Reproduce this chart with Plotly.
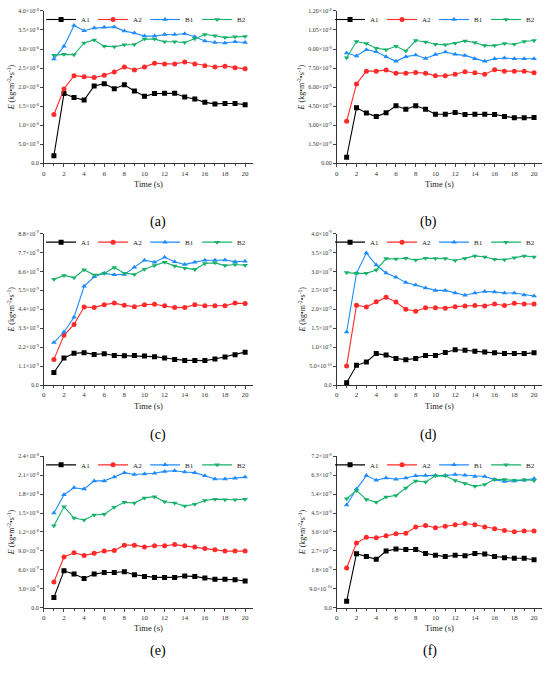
import math
import plotly.graph_objects as go

# time axis (s)
time_s = list(range(1, 21))
series_names = ['A1', 'A2', 'B1', 'B2']

# (a) values in units of 1e-8
a_A1 = [0.20, 1.83, 1.73, 1.66, 2.03, 2.09, 1.96, 2.06, 1.90, 1.76, 1.83, 1.84, 1.84, 1.74, 1.69, 1.60, 1.56, 1.57, 1.57, 1.54]
a_A2 = [1.28, 1.95, 2.30, 2.27, 2.25, 2.31, 2.40, 2.53, 2.45, 2.53, 2.63, 2.61, 2.61, 2.66, 2.61, 2.56, 2.53, 2.55, 2.51, 2.48]
a_B1 = [2.74, 3.07, 3.62, 3.48, 3.55, 3.57, 3.58, 3.47, 3.42, 3.34, 3.34, 3.38, 3.38, 3.40, 3.32, 3.21, 3.17, 3.16, 3.19, 3.17]
a_B2 = [2.84, 2.86, 2.85, 3.16, 3.24, 3.07, 3.06, 3.11, 3.12, 3.26, 3.26, 3.19, 3.19, 3.17, 3.27, 3.38, 3.35, 3.30, 3.32, 3.33]

# (b) values in units of 1e-9
b_A1 = [0.48, 4.37, 3.97, 3.68, 3.99, 4.53, 4.26, 4.53, 4.26, 3.87, 3.87, 4.00, 3.84, 3.87, 3.87, 3.84, 3.68, 3.58, 3.58, 3.60]
b_A2 = [3.31, 6.25, 7.26, 7.26, 7.34, 7.10, 7.10, 7.15, 7.10, 6.89, 6.89, 7.02, 7.21, 7.13, 7.02, 7.36, 7.26, 7.26, 7.26, 7.13]
b_B1 = [8.69, 8.45, 8.95, 8.79, 8.40, 8.03, 8.40, 8.53, 8.26, 8.56, 8.77, 8.58, 8.50, 8.24, 8.03, 8.24, 8.29, 8.24, 8.24, 8.24]
b_B2 = [8.32, 9.59, 9.43, 9.06, 8.95, 9.22, 8.85, 9.67, 9.56, 9.38, 9.33, 9.46, 9.64, 9.51, 9.27, 9.27, 9.43, 9.38, 9.59, 9.67]

# (c) values in units of 1e-9
c_A1 = [0.73, 1.57, 1.84, 1.88, 1.78, 1.82, 1.72, 1.70, 1.72, 1.68, 1.65, 1.57, 1.49, 1.43, 1.43, 1.42, 1.51, 1.63, 1.76, 1.91]
c_A2 = [1.49, 2.89, 3.52, 4.53, 4.50, 4.67, 4.76, 4.63, 4.55, 4.67, 4.69, 4.61, 4.50, 4.51, 4.67, 4.61, 4.61, 4.61, 4.76, 4.74]
c_B1 = [2.47, 3.08, 3.94, 5.74, 6.29, 6.49, 6.41, 6.43, 6.85, 7.25, 7.14, 7.42, 7.16, 7.00, 7.14, 7.25, 7.25, 7.27, 7.17, 7.19]
c_B2 = [6.14, 6.37, 6.24, 6.70, 6.39, 6.50, 6.83, 6.50, 6.43, 6.73, 6.94, 7.14, 6.91, 6.79, 6.71, 7.06, 7.10, 6.94, 7.00, 6.96]

# (d) values in units of 1e-9
d_A1 = [0.06, 0.52, 0.61, 0.83, 0.79, 0.70, 0.67, 0.70, 0.78, 0.78, 0.86, 0.93, 0.92, 0.89, 0.87, 0.85, 0.83, 0.83, 0.83, 0.85]
d_A2 = [0.50, 2.11, 2.06, 2.20, 2.32, 2.19, 2.00, 1.95, 2.04, 2.04, 2.03, 2.07, 2.09, 2.10, 2.09, 2.14, 2.10, 2.16, 2.14, 2.14]
d_B1 = [1.40, 2.95, 3.49, 3.17, 2.96, 2.85, 2.71, 2.64, 2.56, 2.50, 2.50, 2.43, 2.37, 2.43, 2.47, 2.46, 2.43, 2.43, 2.38, 2.35]
d_B2 = [2.97, 2.95, 2.95, 3.04, 3.34, 3.33, 3.35, 3.30, 3.35, 3.34, 3.34, 3.29, 3.34, 3.41, 3.38, 3.32, 3.31, 3.36, 3.41, 3.38]

# (e) values in units of 1e-9
e_A1 = [1.62, 5.84, 5.32, 4.64, 5.32, 5.58, 5.58, 5.69, 5.22, 4.96, 4.80, 4.80, 4.80, 5.01, 4.96, 4.69, 4.49, 4.49, 4.43, 4.23]
e_A2 = [4.07, 8.03, 8.71, 8.29, 8.61, 8.97, 9.08, 9.91, 9.91, 9.60, 9.81, 9.81, 10.0, 9.81, 9.60, 9.39, 9.18, 8.97, 8.97, 8.97]
e_B1 = [15.0, 17.9, 19.0, 18.8, 20.1, 20.1, 20.7, 21.4, 21.1, 21.2, 21.3, 21.6, 21.7, 21.5, 21.4, 20.9, 20.4, 20.4, 20.5, 20.7]
e_B2 = [13.0, 16.0, 14.2, 13.9, 14.7, 14.8, 15.9, 16.7, 16.6, 17.4, 17.6, 16.8, 16.6, 16.1, 16.4, 17.0, 17.2, 17.1, 17.1, 17.2]

# (f) values in units of 1e-9
f_A1 = [0.31, 2.57, 2.43, 2.30, 2.69, 2.79, 2.77, 2.77, 2.58, 2.49, 2.43, 2.49, 2.47, 2.58, 2.55, 2.43, 2.38, 2.35, 2.35, 2.28]
f_A2 = [1.89, 3.07, 3.35, 3.32, 3.42, 3.51, 3.54, 3.84, 3.91, 3.80, 3.87, 3.94, 4.00, 3.94, 3.84, 3.75, 3.67, 3.61, 3.65, 3.65]
f_B1 = [4.88, 5.64, 6.28, 6.06, 6.17, 6.11, 6.17, 6.27, 6.28, 6.28, 6.28, 6.33, 6.30, 6.24, 6.24, 6.09, 6.00, 6.03, 6.06, 6.14]
f_B2 = [5.18, 5.57, 5.15, 5.01, 5.26, 5.34, 5.69, 6.03, 5.98, 6.27, 6.27, 6.05, 5.91, 5.77, 5.86, 6.09, 6.09, 6.06, 6.08, 6.05]

# per panel: label, data unit, y tick step, y top, decimals of tick text
panel_labels = ['(a)', '(b)', '(c)', '(d)', '(e)', '(f)']
panel_units = [1e-8, 1e-9, 1e-9, 1e-9, 1e-9, 1e-9]
tick_steps = [5e-9, 1.5e-9, 1.1e-9, 5e-10, 3e-9, 9e-10]
y_tops = [4e-8, 1.2e-8, 8.8e-9, 4e-9, 2.4e-8, 7.2e-9]
tick_decimals = [1, 2, 1, 1, 1, 1]
panel_data = [
    [a_A1, a_A2, a_B1, a_B2],
    [b_A1, b_A2, b_B1, b_B2],
    [c_A1, c_A2, c_B1, c_B2],
    [d_A1, d_A2, d_B1, d_B2],
    [e_A1, e_A2, e_B1, e_B2],
    [f_A1, f_A2, f_B1, f_B2],
]

colors = ['#000000', '#FF2A2A', '#1E8BFF', '#17B26A']
symbols = ['square', 'circle', 'triangle-up', 'triangle-down']

W, H = 550, 676
FONT = 'Liberation Serif'

# pixel boxes of the plot areas (left, right, top, bottom)
col_x = [(42, 252), (336, 542)]
row_y = [(7, 161), (232, 385), (457, 610)]
label_y = [210, 436, 664]


def sci(v, dec):
    if abs(v) < 1e-20:
        return f'{0:.{dec}f}'
    e = math.floor(math.log10(v) + 1e-9)
    m = v / 10 ** e
    return f'{m:.{dec}f}×10<sup>{e}</sup>'


fig = go.Figure()

for i in range(6):
    r, c = divmod(i, 2)
    sfx = '' if i == 0 else str(i + 1)
    x0, x1 = col_x[c]
    y0, y1 = row_y[r]
    px_per_s = (x1 - x0 - 8) / 20.0
    xmax = (x1 - x0) / px_per_s

    for name, vals, col, sym in zip(series_names, panel_data[i], colors, symbols):
        fig.add_trace(go.Scatter(
            x=time_s, y=[v * panel_units[i] for v in vals],
            mode='lines+markers', name=name,
            line=dict(color=col, width=1.1),
            marker=dict(symbol=sym, size=5, color=col),
            xaxis='x' + sfx, yaxis='y' + sfx,
            legend='legend' + sfx,
        ))

    n = int(round(y_tops[i] / tick_steps[i]))
    tvals = [k * tick_steps[i] for k in range(n + 1)]
    ttext = [sci(v, tick_decimals[i]) for v in tvals]

    fig.layout['xaxis' + sfx] = dict(
        domain=[x0 / W, x1 / W], anchor='y' + sfx,
        range=[0, xmax], tickvals=list(range(0, 21, 2)),
        ticks='outside', ticklen=3, tickwidth=0.8,
        minor=dict(dtick=1, ticks='outside', ticklen=2, tickwidth=0.6),
        showline=True, linecolor='#333', linewidth=0.8,
        showgrid=False, zeroline=False,
        tickfont=dict(family=FONT, size=7, color='#333'),
        title=dict(text='Time (s)', standoff=4,
                   font=dict(family=FONT, size=8.5, color='#222')),
    )
    fig.layout['yaxis' + sfx] = dict(
        domain=[1 - y1 / H, 1 - y0 / H], anchor='x' + sfx,
        range=[0, y_tops[i]], tickvals=tvals, ticktext=ttext,
        ticks='outside', ticklen=3, tickwidth=0.8,
        showline=True, linecolor='#333', linewidth=0.8,
        showgrid=False, zeroline=False,
        tickfont=dict(family=FONT, size=6, color='#333'),
        title=dict(text='<i>E</i> (kg•m<sup>-2</sup>•s<sup>-1</sup>)', standoff=2,
                   font=dict(family=FONT, size=8, color='#222')),
    )
    # horizontal legend at the top of each panel
    fig.layout['legend' + sfx] = dict(
        orientation='h', x=(x1 - 4) / W, xanchor='right',
        y=1 - (y0 - 6) / H, yanchor='top',
        bgcolor='rgba(0,0,0,0)', itemwidth=30, entrywidth=7,
        tracegroupgap=0,
        font=dict(family=FONT, size=7, color='#222'),
    )
    fig.add_annotation(
        text=panel_labels[i], xref='paper', yref='paper',
        x=(x0 + x1) / 2 / W, y=1 - label_y[r] / H,
        showarrow=False, font=dict(family=FONT, size=14, color='#000'),
    )

fig.update_layout(
    width=W, height=H,
    margin=dict(l=0, r=0, t=0, b=0),
    paper_bgcolor='white', plot_bgcolor='white',
)

# drop the default page margin so the figure sits at the window corner
fig.write_html('out.html', config={'displayModeBar': False},
               post_script="document.body.style.margin='0px';")
